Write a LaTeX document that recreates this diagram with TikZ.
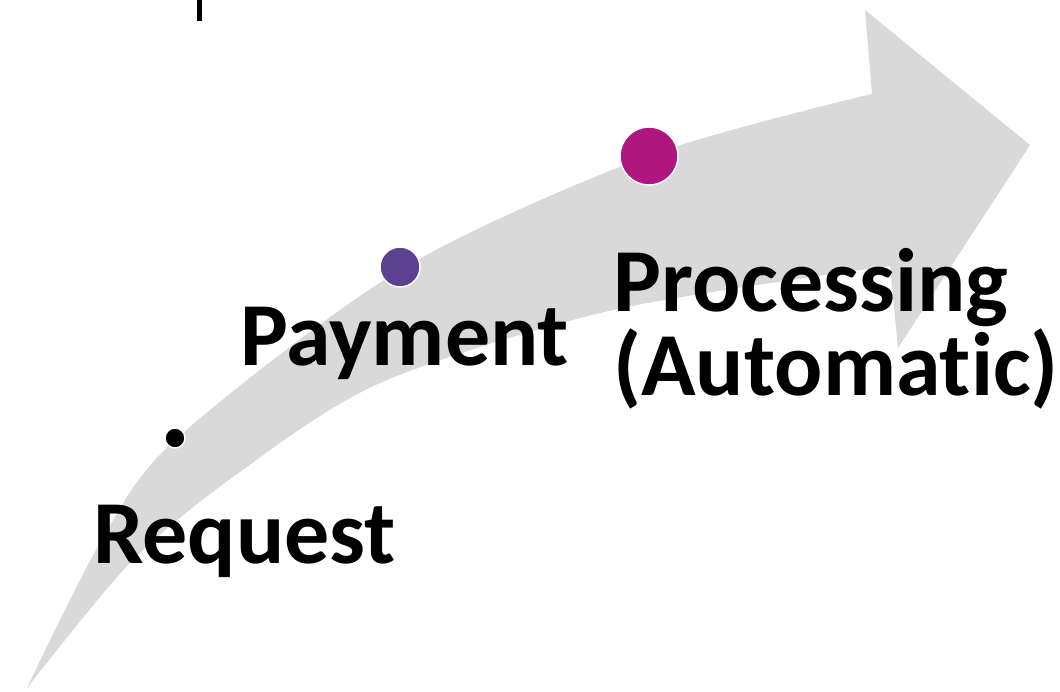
\documentclass[tikz,border=0pt]{standalone}
\usepackage{fontspec}
\usepackage{xcolor}
\setmainfont{Carlito}[Ligatures=NoCommon]
\definecolor{arrowgray}{HTML}{D9D9D9}
\definecolor{paypurple}{HTML}{5C4190}
\definecolor{procmagenta}{HTML}{AF1680}

\begin{document}
\begin{tikzpicture}[x=0.75pt, y=-0.75pt,
    dot/.style = {shape=circle, draw=white, line width=1.1pt, inner sep=0pt},
    label/.style = {anchor=base west, inner sep=0pt, align=left,
      font=\fontsize{67.5}{60}\selectfont\bfseries}]
    \useasboundingbox (0,0) rectangle (1060,692);
    % curved arrow
    \fill[arrowgray] plot[smooth] coordinates {(27,688) (100,543) (175,440) (400,270) (648,156) (872,94)}
        -- (865,10) -- (1030,145) -- (898,348) -- (890,266)
        -- plot[smooth] coordinates {(890,266) (613,310) (380,383) (233,477) (130,563) (27,688)} -- cycle;
    % cut-off text at the top
    \fill (197,0) rectangle (202,21);
    % steps
    \node[dot, fill=black, minimum size=15pt] (reqdot) at (175,438) {};
    \node[dot, fill=paypurple, minimum size=30pt] (paydot) at (400,267) {};
    \node[dot, fill=procmagenta, minimum size=43.5pt] (procdot) at (649,156) {};
    \node[label] (req) at (93,563) {Request};
    \node[label] (pay) at (240,365) {Payment};
    \node[label] (proc) at (613,395) {Processing\\(Automatic)};
\end{tikzpicture}
\end{document}
